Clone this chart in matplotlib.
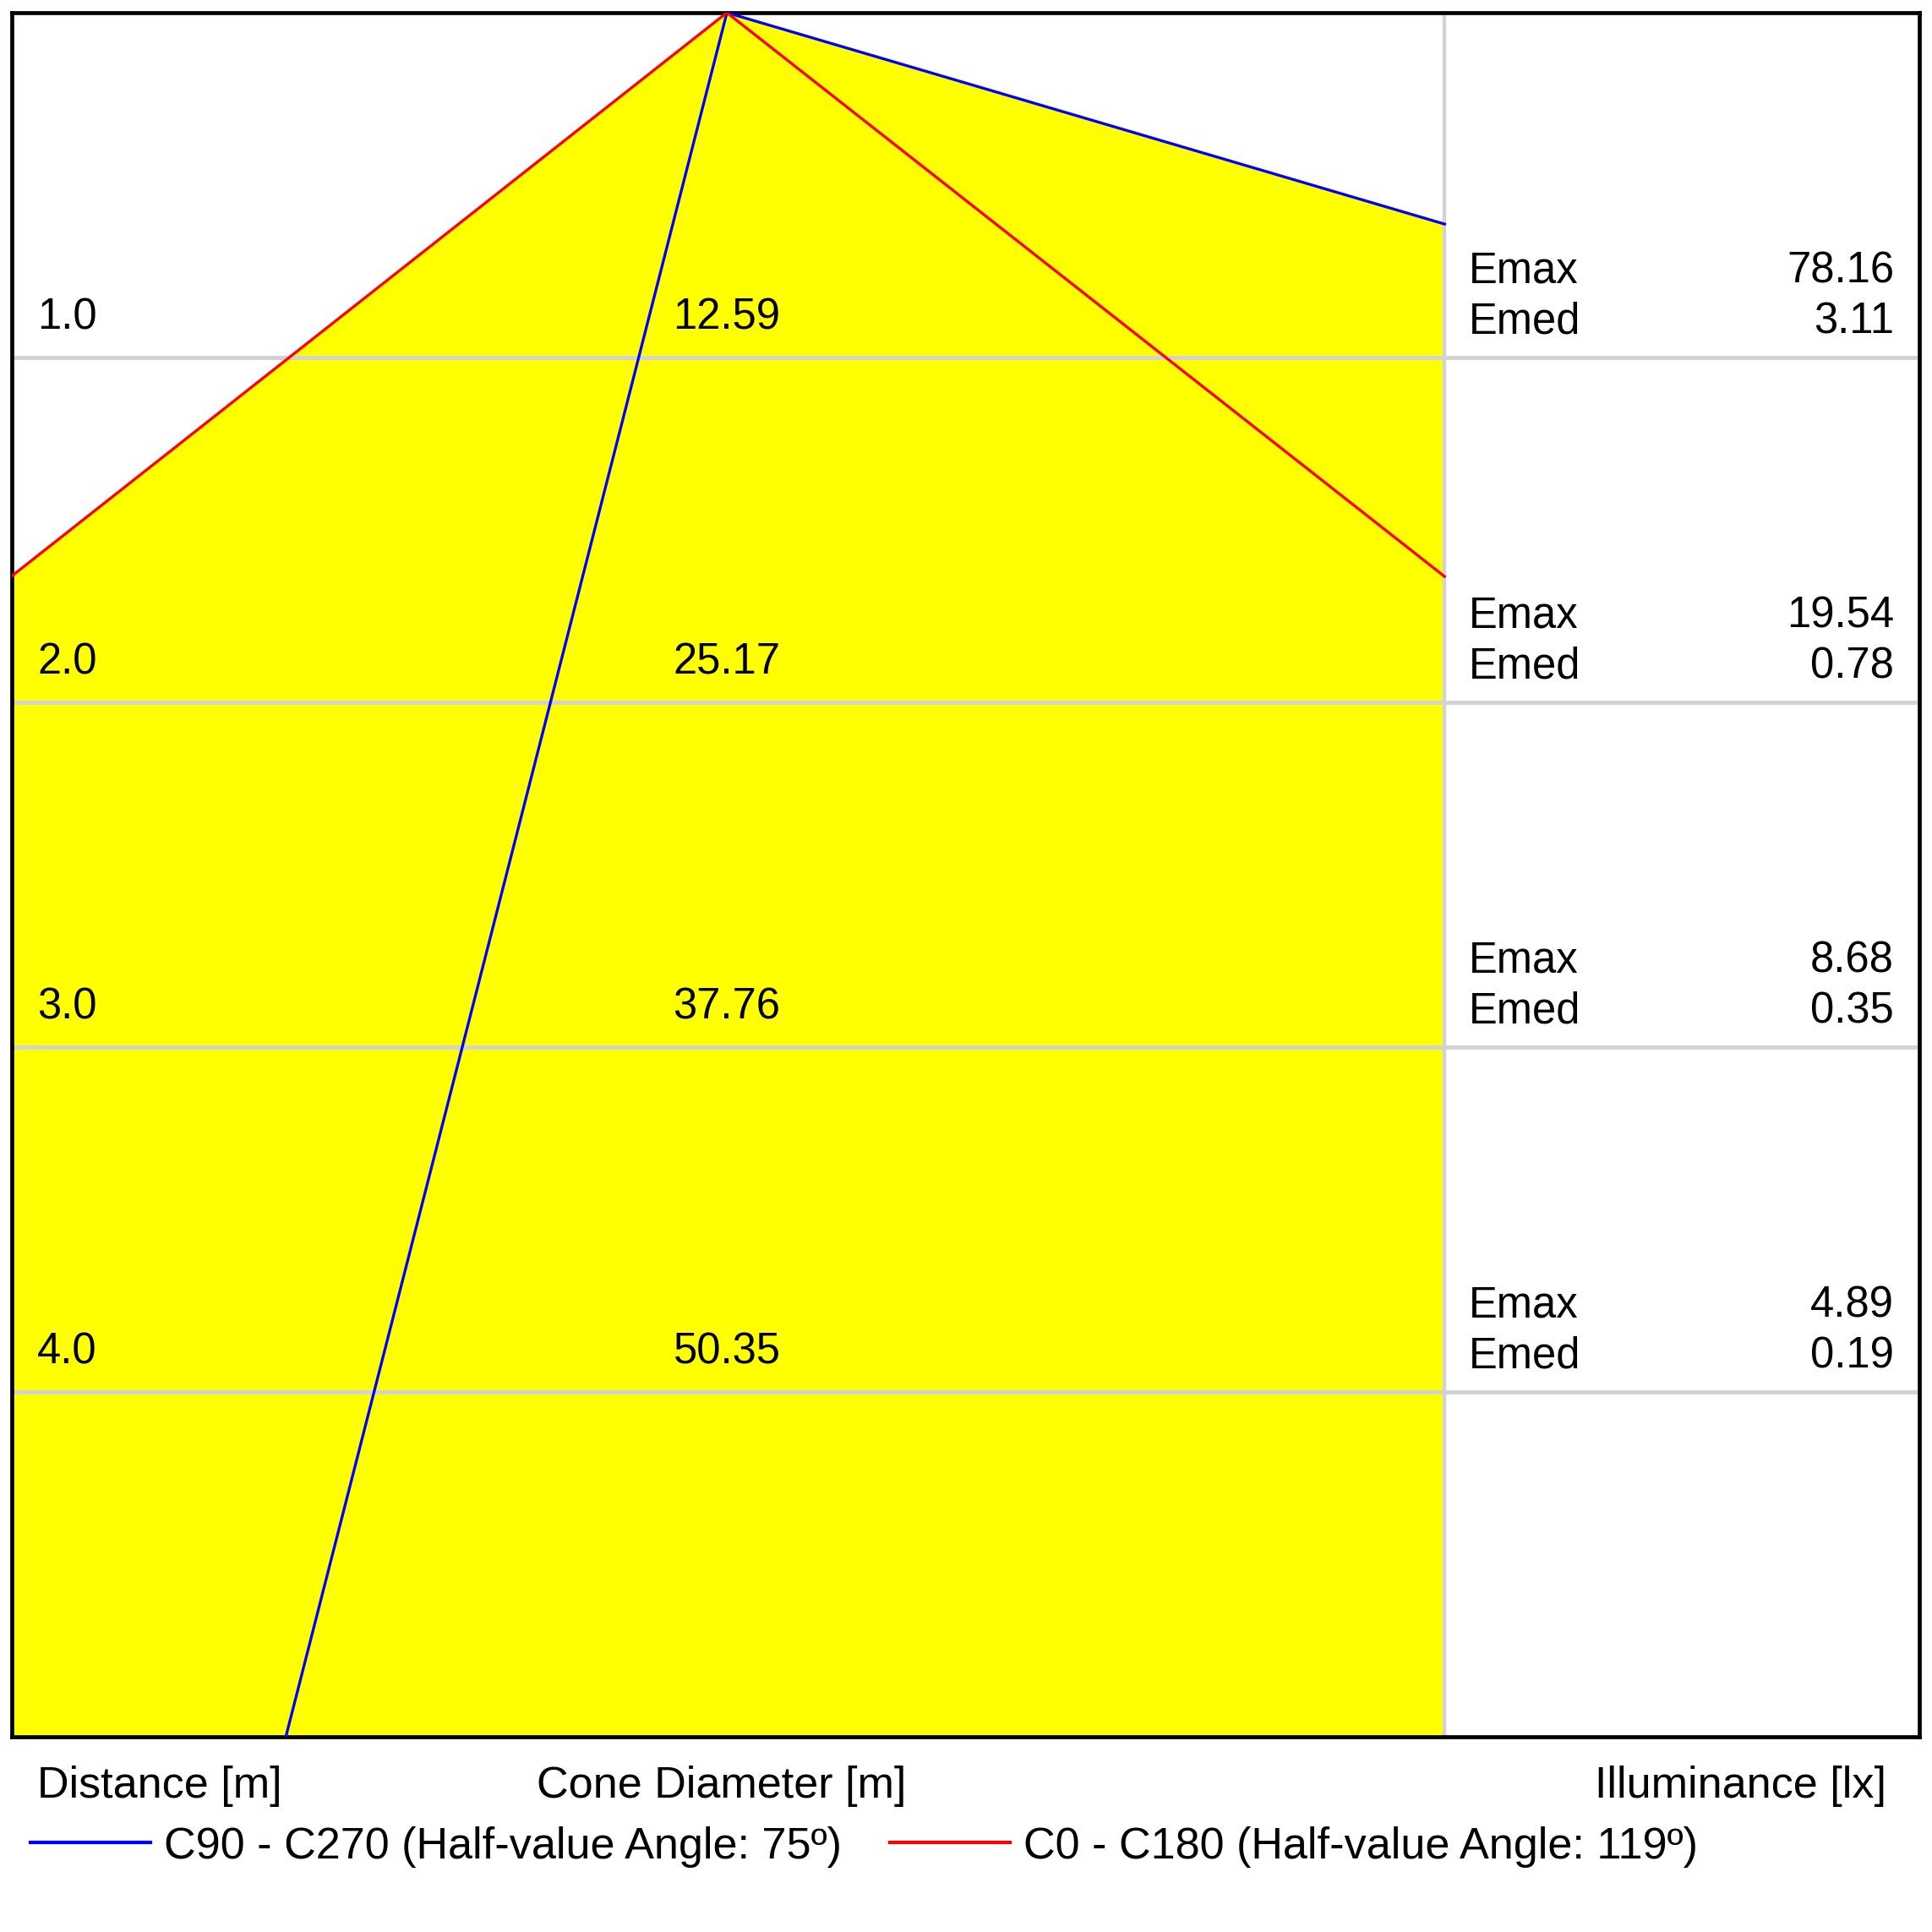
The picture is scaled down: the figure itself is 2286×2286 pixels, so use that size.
import matplotlib
matplotlib.use("Agg")
import matplotlib.pyplot as plt

# distance rows [m] and values for each row
distances = [1.0, 2.0, 3.0, 4.0]
cone_diameter = ["12.59", "25.17", "37.76", "50.35"]
emax = ["78.16", "19.54", "8.68", "4.89"]
emed = ["3.11", "0.78", "0.35", "0.19"]

# beam outline, lateral offset [m] vs distance [m]
red_x = [-2.776, 0.0, 2.784]     # C0 - C180
red_y = [1.635, 0.0, 1.635]
blue_x = [-1.711, 0.0, 2.784]    # C90 - C270
blue_y = [5.0, 0.0, 0.613]

red_label = "C0 - C180 (Half-value Angle: 119º)"
blue_label = "C90 - C270 (Half-value Angle: 75º)"

x_left, x_div, x_right = -2.774, 2.784, 4.626
d_max = 5.0

plt.rcParams["font.family"] = ["Liberation Sans", "DejaVu Sans"]

fig = plt.figure(figsize=(22.86, 22.86), dpi=100)
ax = fig.add_axes([14 / 2286, 1 - 2055 / 2286, 2257 / 2286, 2040 / 2286])
ax.set_xlim(x_left, x_right)
ax.set_ylim(d_max, 0)

# yellow cones (union of both beams)
ax.fill([red_x[1], red_x[0], red_x[0], red_x[2], red_x[2]],
        [red_y[1], red_y[0], d_max, d_max, red_y[2]], color="#ffff00", lw=0, zorder=1)
ax.fill([blue_x[1], blue_x[0], blue_x[2], blue_x[2]],
        [blue_y[1], blue_y[0], d_max, blue_y[2]], color="#ffff00", lw=0, zorder=1)

# grid
for d in distances:
    ax.axhline(d, color="#d3d3d3", lw=3.6, zorder=2)
ax.axvline(x_div, color="#d3d3d3", lw=3.2, zorder=2)

l_blue, = ax.plot(blue_x, blue_y, color="#0000ff", lw=2.4, zorder=3, label=blue_label)
l_red, = ax.plot(red_x, red_y, color="#ff0000", lw=2.4, zorder=3, label=red_label)

fs = 36.5
for d, cd, emx, emd in zip(distances, cone_diameter, emax, emed):
    ax.text(-2.675, d - 0.115, f"{d:.1f}", fontsize=fs, va="center", ha="left", zorder=4)
    ax.text(0.0, d - 0.115, cd, fontsize=fs, va="center", ha="center", zorder=4)
    ax.text(2.879, d - 0.25, "Emax", fontsize=fs, va="center", ha="left", zorder=4)
    ax.text(4.528, d - 0.25, emx, fontsize=fs, va="center", ha="right", zorder=4)
    ax.text(2.879, d - 0.103, "Emed", fontsize=fs, va="center", ha="left", zorder=4)
    ax.text(4.528, d - 0.103, emd, fontsize=fs, va="center", ha="right", zorder=4)

ax.set_xticks([])
ax.set_yticks([])
for s in ax.spines.values():
    s.set_linewidth(3.4)
    s.set_color("black")

# labels under the frame
lfs = 37.5
fig.text(44 / 2286, 1 - 2113 / 2286, "Distance [m]", fontsize=lfs, ha="left", va="center")
fig.text(854 / 2286, 1 - 2113 / 2286, "Cone Diameter [m]", fontsize=lfs, ha="center", va="center")
fig.text(2232 / 2286, 1 - 2113 / 2286, "Illuminance [lx]", fontsize=lfs, ha="right", va="center")

fig.legend(handles=[l_blue, l_red], loc="center left",
           bbox_to_anchor=(36 / 2286, 1 - 2185 / 2286), ncol=2, frameon=False,
           fontsize=lfs, handlelength=2.73, handletextpad=0.31, columnspacing=1.08,
           borderpad=0, borderaxespad=0)
for line in fig.legends[0].get_lines():
    line.set_linewidth(3.0)

fig.savefig("out.png", dpi=100, facecolor="white")
